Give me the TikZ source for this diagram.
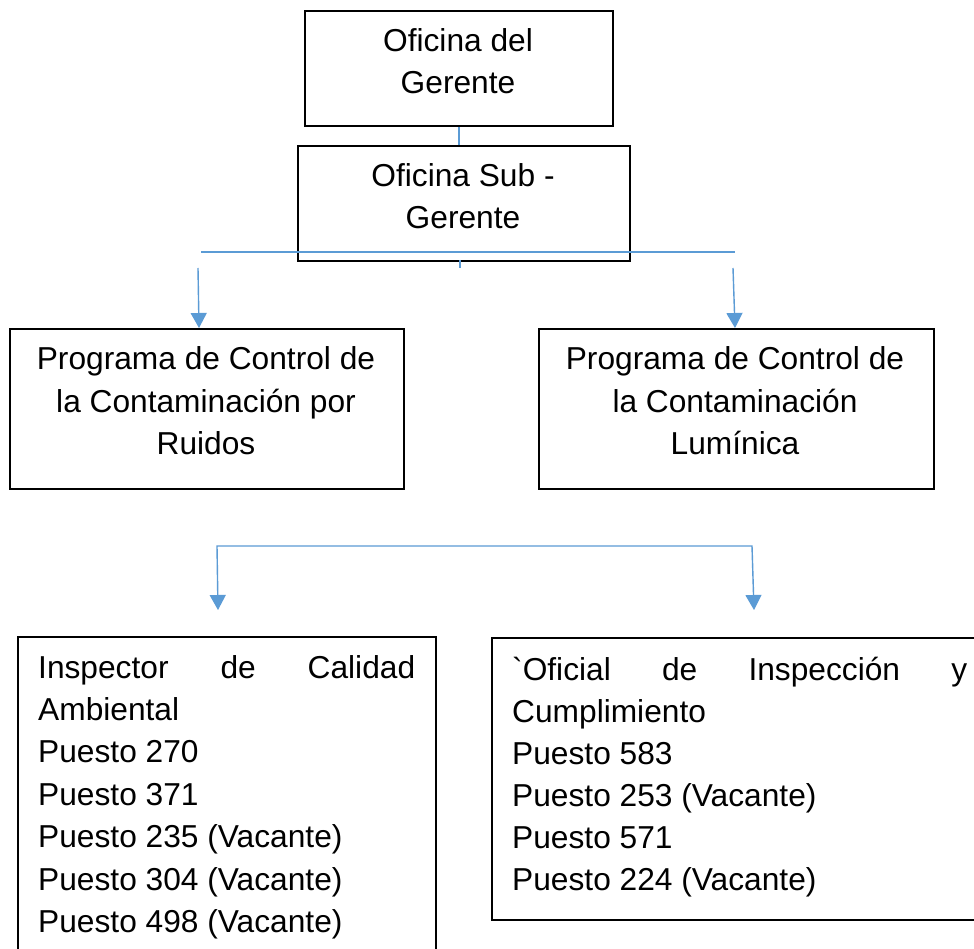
\documentclass[tikz,border=0pt]{standalone}
\usepackage{fontspec}
\setmainfont{Liberation Sans}
\usetikzlibrary{arrows.meta}
\definecolor{conn}{RGB}{91,155,213}
\begin{document}
\begin{tikzpicture}[x=1pt,y=-1pt,
  box/.style={draw=black,line width=1.8pt,rectangle,inner sep=0pt,anchor=north west},
  txt/.style={inner sep=0pt,anchor=base,font=\fontsize{31.7}{42.3}\selectfont},
  ltxt/.style={inner sep=0pt,anchor=base west,font=\fontsize{31.7}{42.3}\selectfont},
  link/.style={draw=conn,line width=1.4pt},
  tip/.tip={Triangle[width=16pt,length=15pt]},
  arr/.style={link,-tip},
  darr/.style={link,tip-tip}]
\clip (0,0) rectangle (974,949);
\fill[white] (0,0) rectangle (974,949);
% boxes
\node[box,minimum width=308pt,minimum height=115pt] (b1) at (304,10) {};
\node[box,minimum width=332pt,minimum height=115pt] (b2) at (297,145) {};
\node[box,minimum width=394pt,minimum height=160pt] (b3) at (9,328) {};
\node[box,minimum width=395pt,minimum height=160pt] (b4) at (538,328) {};
\node[box,minimum width=418pt,minimum height=340pt] (b5) at (17,636) {};
\node[box,minimum width=520pt,minimum height=282pt] (b6) at (491,637) {};
% texts
\node[txt] (t1a) at (458,52) {Oficina del};
\node[txt] (t1b) at (458,94) {Gerente};
\node[txt] (t2a) at (463,187) {Oficina Sub -};
\node[txt] (t2b) at (463,229) {Gerente};
\node[txt] (t3a) at (206,369) {Programa de Control de};
\node[txt] (t3b) at (206,412) {la Contaminación por};
\node[txt] (t3c) at (206,454) {Ruidos};
\node[txt] (t4a) at (735,369) {Programa de Control de};
\node[txt] (t4b) at (735,412) {la Contaminación};
\node[txt] (t4c) at (735,454) {Lumínica};
\node[ltxt] (t5a) at (38,678) {\makebox[377pt][s]{Inspector de Calidad}};
\node[ltxt] (t5b) at (38,720) {Ambiental};
\node[ltxt] (t5c) at (38,762) {Puesto 270};
\node[ltxt] (t5d) at (38,805) {Puesto 371};
\node[ltxt] (t5e) at (38,847) {Puesto 235 (Vacante)};
\node[ltxt] (t5f) at (38,890) {Puesto 304 (Vacante)};
\node[ltxt] (t5g) at (38,932) {Puesto 498 (Vacante)};
\node[ltxt] (t6a) at (512,680) {\makebox[455pt][s]{\textasciigrave Oficial de Inspección y}};
\node[ltxt] (t6b) at (512,722) {Cumplimiento};
\node[ltxt] (t6c) at (512,764) {Puesto 583};
\node[ltxt] (t6d) at (512,806) {Puesto 253 (Vacante)};
\node[ltxt] (t6e) at (512,848) {Puesto 571};
\node[ltxt] (t6f) at (512,890) {Puesto 224 (Vacante)};
% connectors
\draw[link] (b1.south -| 459,0) -- (b2.north -| 459,0);
\coordinate (hl) at (201,252);
\coordinate (hr) at (735,252);
\draw[link] (hl) -- (hr);
\coordinate (st) at (460,260);
\coordinate (sb) at (460,268);
\draw[link] (st) -- (sb);
\coordinate (a1s) at (198,268);
\coordinate (a2s) at (733,268);
\draw[arr] (a1s) -- (b3.north -| 199,0);
\draw[arr] (a2s) -- (b4.north -| 735,0);
\coordinate (e1) at (218,610);
\coordinate (bt1) at (217,546);
\coordinate (bt2) at (752,546);
\coordinate (e2) at (754,610);
\draw[darr] (e1) -- (bt1) -- (bt2) -- (e2);
\end{tikzpicture}
\end{document}
